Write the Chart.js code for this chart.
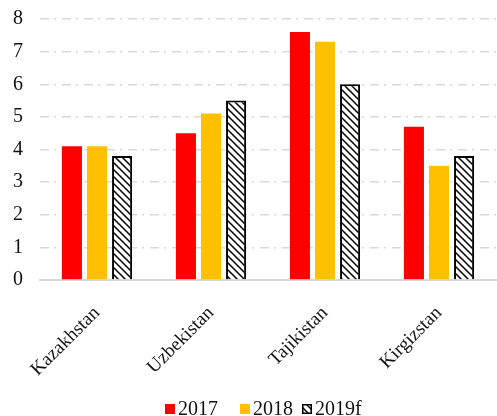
<!DOCTYPE html>
<html>
<head>
<meta charset="utf-8">
<script src="https://cdn.jsdelivr.net/npm/chart.js@4/dist/chart.umd.min.js"></script>
<style>
  html, body { margin: 0; padding: 0; background: #fff; }
  #wrap { width: 497px; height: 416px; }
</style>
</head>
<body>
<div id="wrap"><canvas id="chart" width="497" height="416"></canvas></div>
<script>
const countries = ['Kazakhstan', 'Uzbekistan', 'Tajikistan', 'Kirgizstan'];
const seriesNames = ['2017', '2018', '2019f'];
const values2017 = [4.1, 4.5, 7.6, 4.7];
const values2018 = [4.1, 5.1, 7.3, 3.5];
const values2019f = [3.8, 5.5, 6.0, 3.8];
const yTicks = [0, 1, 2, 3, 4, 5, 6, 7, 8];

const FONT = "'Liberation Serif', 'DejaVu Serif', serif";

// diagonal hatch for the forecast bars
function makeHatch(size) {
  const c = document.createElement('canvas');
  c.width = size; c.height = size;
  const g = c.getContext('2d');
  g.fillStyle = '#fff';
  g.fillRect(0, 0, size, size);
  g.strokeStyle = '#000';
  g.lineWidth = 1.5;
  g.beginPath();
  g.moveTo(-2, -2); g.lineTo(size + 2, size + 2);
  g.moveTo(-size - 2, -2); g.lineTo(2, size + 2);
  g.moveTo(size - 2, -2); g.lineTo(2 * size + 2, size + 2);
  g.stroke();
  return g.createPattern(c, 'repeat');
}

// compact legend: small square, tight text gap, under the plot
const bottomLegend = {
  id: 'bottomLegend',
  afterDraw(chart) {
    const ctx = chart.ctx;
    const box = 10, gap = 3;
    const slots = [165, 240, 302];
    const y = 409;
    ctx.save();
    ctx.font = `20px ${FONT}`;
    ctx.textBaseline = 'middle';
    chart.data.datasets.forEach((ds, i) => {
      const x = slots[i];
      ctx.fillStyle = ds.backgroundColor;
      ctx.fillRect(x, y - box / 2, box, box);
      if (ds.borderWidth) {
        ctx.strokeStyle = ds.borderColor;
        ctx.lineWidth = 1.5;
        ctx.strokeRect(x + 0.75, y - box / 2 + 0.75, box - 1.5, box - 1.5);
      }
      ctx.fillStyle = '#111';
      ctx.fillText(ds.label, x + box + gap, y + 1);
    });
    ctx.restore();
  },
};

const ctx = document.getElementById('chart').getContext('2d');

new Chart(ctx, {
  type: 'bar',
  data: {
    labels: countries,
    datasets: [
      { label: seriesNames[0], data: values2017, backgroundColor: '#ff0000', borderWidth: 0 },
      { label: seriesNames[1], data: values2018, backgroundColor: '#ffc000', borderWidth: 0 },
      { label: seriesNames[2], data: values2019f, backgroundColor: makeHatch(7), borderColor: '#000', borderWidth: 2 },
    ],
  },
  options: {
    responsive: false,
    animation: false,
    layout: { padding: { top: 0, right: 1, left: 0, bottom: 26 } },
    datasets: {
      bar: { categoryPercentage: 0.66, barPercentage: 0.8 },
    },
    scales: {
      x: {
        grid: { display: false },
        border: { display: true, color: '#d9d9d9', width: 2 },
        ticks: {
          color: '#111',
          font: { family: FONT, size: 19 },
          minRotation: 45,
          maxRotation: 45,
          padding: 14,
        },
        afterFit: scale => { scale.height = 110; },
      },
      y: {
        min: yTicks[0],
        max: yTicks[yTicks.length - 1],
        afterBuildTicks: scale => { scale.ticks = yTicks.map(v => ({ value: v })); },
        grid: {
          color: c => (c.tick && c.tick.value === 0 ? 'rgba(0,0,0,0)' : '#d9d9d9'),
          lineWidth: 1.5,
          drawTicks: false,
        },
        border: { display: false, dash: [9, 5, 2, 6] },
        ticks: {
          color: '#111',
          font: { family: FONT, size: 20 },
          padding: 17,
        },
        afterFit: scale => {
          scale.width = 40;
          scale.paddingTop = 19;
          scale.paddingBottom = 0;
        },
      },
    },
    plugins: {
      legend: { display: false },
      tooltip: { enabled: false },
    },
  },
  plugins: [bottomLegend],
});
</script>
</body>
</html>
